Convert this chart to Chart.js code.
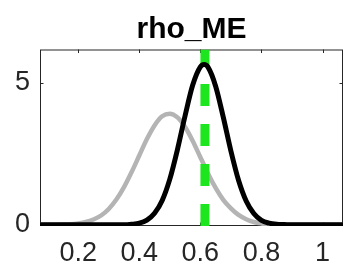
<!DOCTYPE html>
<html>
<head>
<meta charset="utf-8">
<script src="https://cdn.jsdelivr.net/npm/chart.js@4"></script>
<style>
  html, body { margin: 0; padding: 0; background: #fff; }
  #wrap { width: 345px; height: 276px; }
</style>
</head>
<body>
<div id="wrap"><canvas id="c" width="345" height="276"></canvas></div>
<script>
// rho_ME — prior (grey) vs posterior (black) density, mode as dashed green line

const TITLE = 'rho_ME';
const X_RANGE = [0.075, 1.067];
const Y_RANGE = [-0.04, 6.17];
const X_TICKS = [0.2, 0.4, 0.6, 0.8, 1];
const Y_TICKS = [0, 5];

const DENSITY_X = [0.075, 0.1, 0.15, 0.175, 0.2, 0.225, 0.25, 0.275, 0.3, 0.325, 0.35, 0.375,
    0.4, 0.425, 0.45, 0.475, 0.5, 0.525, 0.55, 0.575, 0.6, 0.6125, 0.625, 0.65, 0.675, 0.7,
    0.725, 0.75, 0.775, 0.8, 0.825, 0.85, 0.875, 0.9, 0.95, 1, 1.067];
const PRIOR = [0, 0, 0.01, 0.02, 0.05, 0.10, 0.19, 0.33, 0.56, 0.89, 1.33, 1.86,
    2.44, 3.02, 3.50, 3.82, 3.91, 3.78, 3.44, 2.95, 2.38, 2.10, 1.81, 1.30, 0.88, 0.58,
    0.35, 0.20, 0.10, 0.05, 0.02, 0.01, 0, 0, 0, 0, 0];
const POSTERIOR = [0, 0, 0, 0, 0, 0, 0, 0, 0, 0, 0, 0.02,
    0.06, 0.17, 0.41, 0.86, 1.61, 2.65, 3.84, 4.92, 5.56, 5.64, 5.55, 4.88, 3.79, 2.60,
    1.57, 0.84, 0.40, 0.16, 0.06, 0.02, 0.01, 0, 0, 0, 0];
const MODE = 0.615;

const AXIS_COLOR = '#262626';
const FONT = '"Liberation Sans", Arial, sans-serif';

const toPoints = (xs, ys) => xs.map((x, i) => ({ x, y: ys[i] }));

// matlab style box with inward ticks
const boxPlugin = {
    id: 'box',
    beforeDatasetsDraw(chart) {
        const { ctx, chartArea: a, scales } = chart;
        const len = 3.5;
        ctx.save();
        ctx.strokeStyle = AXIS_COLOR;
        ctx.lineWidth = 1;
        ctx.strokeRect(a.left + 0.5, a.top + 0.5, a.right - a.left - 1, a.bottom - a.top - 1);
        ctx.beginPath();
        X_TICKS.forEach(v => {
            const px = Math.round(scales.x.getPixelForValue(v)) + 0.5;
            ctx.moveTo(px, a.top); ctx.lineTo(px, a.top + len);
            ctx.moveTo(px, a.bottom); ctx.lineTo(px, a.bottom - len);
        });
        Y_TICKS.forEach(v => {
            const py = Math.round(scales.y.getPixelForValue(v)) + 0.5;
            ctx.moveTo(a.left, py); ctx.lineTo(a.left + len, py);
            ctx.moveTo(a.right, py); ctx.lineTo(a.right - len, py);
        });
        ctx.stroke();
        ctx.restore();
    }
};

new Chart(document.getElementById('c'), {
    type: 'line',
    data: {
        datasets: [
            {
                label: 'posterior',
                data: toPoints(DENSITY_X, POSTERIOR),
                borderColor: '#000000',
                borderWidth: 5,
                cubicInterpolationMode: 'monotone',
                pointRadius: 0,
                order: 0,
            },
            {
                label: 'mode',
                data: [{ x: MODE, y: Y_RANGE[0] }, { x: MODE, y: Y_RANGE[1] }],
                borderColor: '#1ee61e',
                borderWidth: 9,
                borderDash: [22, 18],
                pointRadius: 0,
                order: 1,
            },
            {
                label: 'prior',
                data: toPoints(DENSITY_X, PRIOR),
                borderColor: '#b4b4b4',
                borderWidth: 4.5,
                cubicInterpolationMode: 'monotone',
                pointRadius: 0,
                order: 2,
            },
        ]
    },
    options: {
        responsive: false,
        animation: false,
        events: [],
        layout: { padding: { left: 0, right: 2, top: 0, bottom: 0 } },
        scales: {
            x: {
                type: 'linear',
                min: X_RANGE[0], max: X_RANGE[1],
                afterBuildTicks: s => { s.ticks = X_TICKS.map(v => ({ value: v })); },
                afterFit: s => { s.height = 50; },
                grid: { display: false, drawTicks: false },
                border: { display: false },
                ticks: {
                    padding: 11,
                    color: '#262626',
                    font: { family: FONT, size: 27 },
                    maxRotation: 0,
                    callback: v => String(v),
                },
            },
            y: {
                min: Y_RANGE[0], max: Y_RANGE[1],
                afterBuildTicks: s => { s.ticks = Y_TICKS.map(v => ({ value: v })); },
                afterFit: s => { s.width = 40; },
                grid: { display: false, drawTicks: false },
                border: { display: false },
                ticks: {
                    padding: 10,
                    color: '#262626',
                    font: { family: FONT, size: 27 },
                    callback: v => String(v),
                },
            },
        },
        plugins: {
            legend: { display: false },
            tooltip: { enabled: false },
            title: {
                display: true,
                fullSize: false,
                text: TITLE,
                color: '#000',
                font: { family: FONT, size: 30, weight: 'bold' },
                padding: { top: 12, bottom: 1.5 },
            },
        },
    },
    plugins: [boxPlugin],
});
</script>
</body>
</html>
